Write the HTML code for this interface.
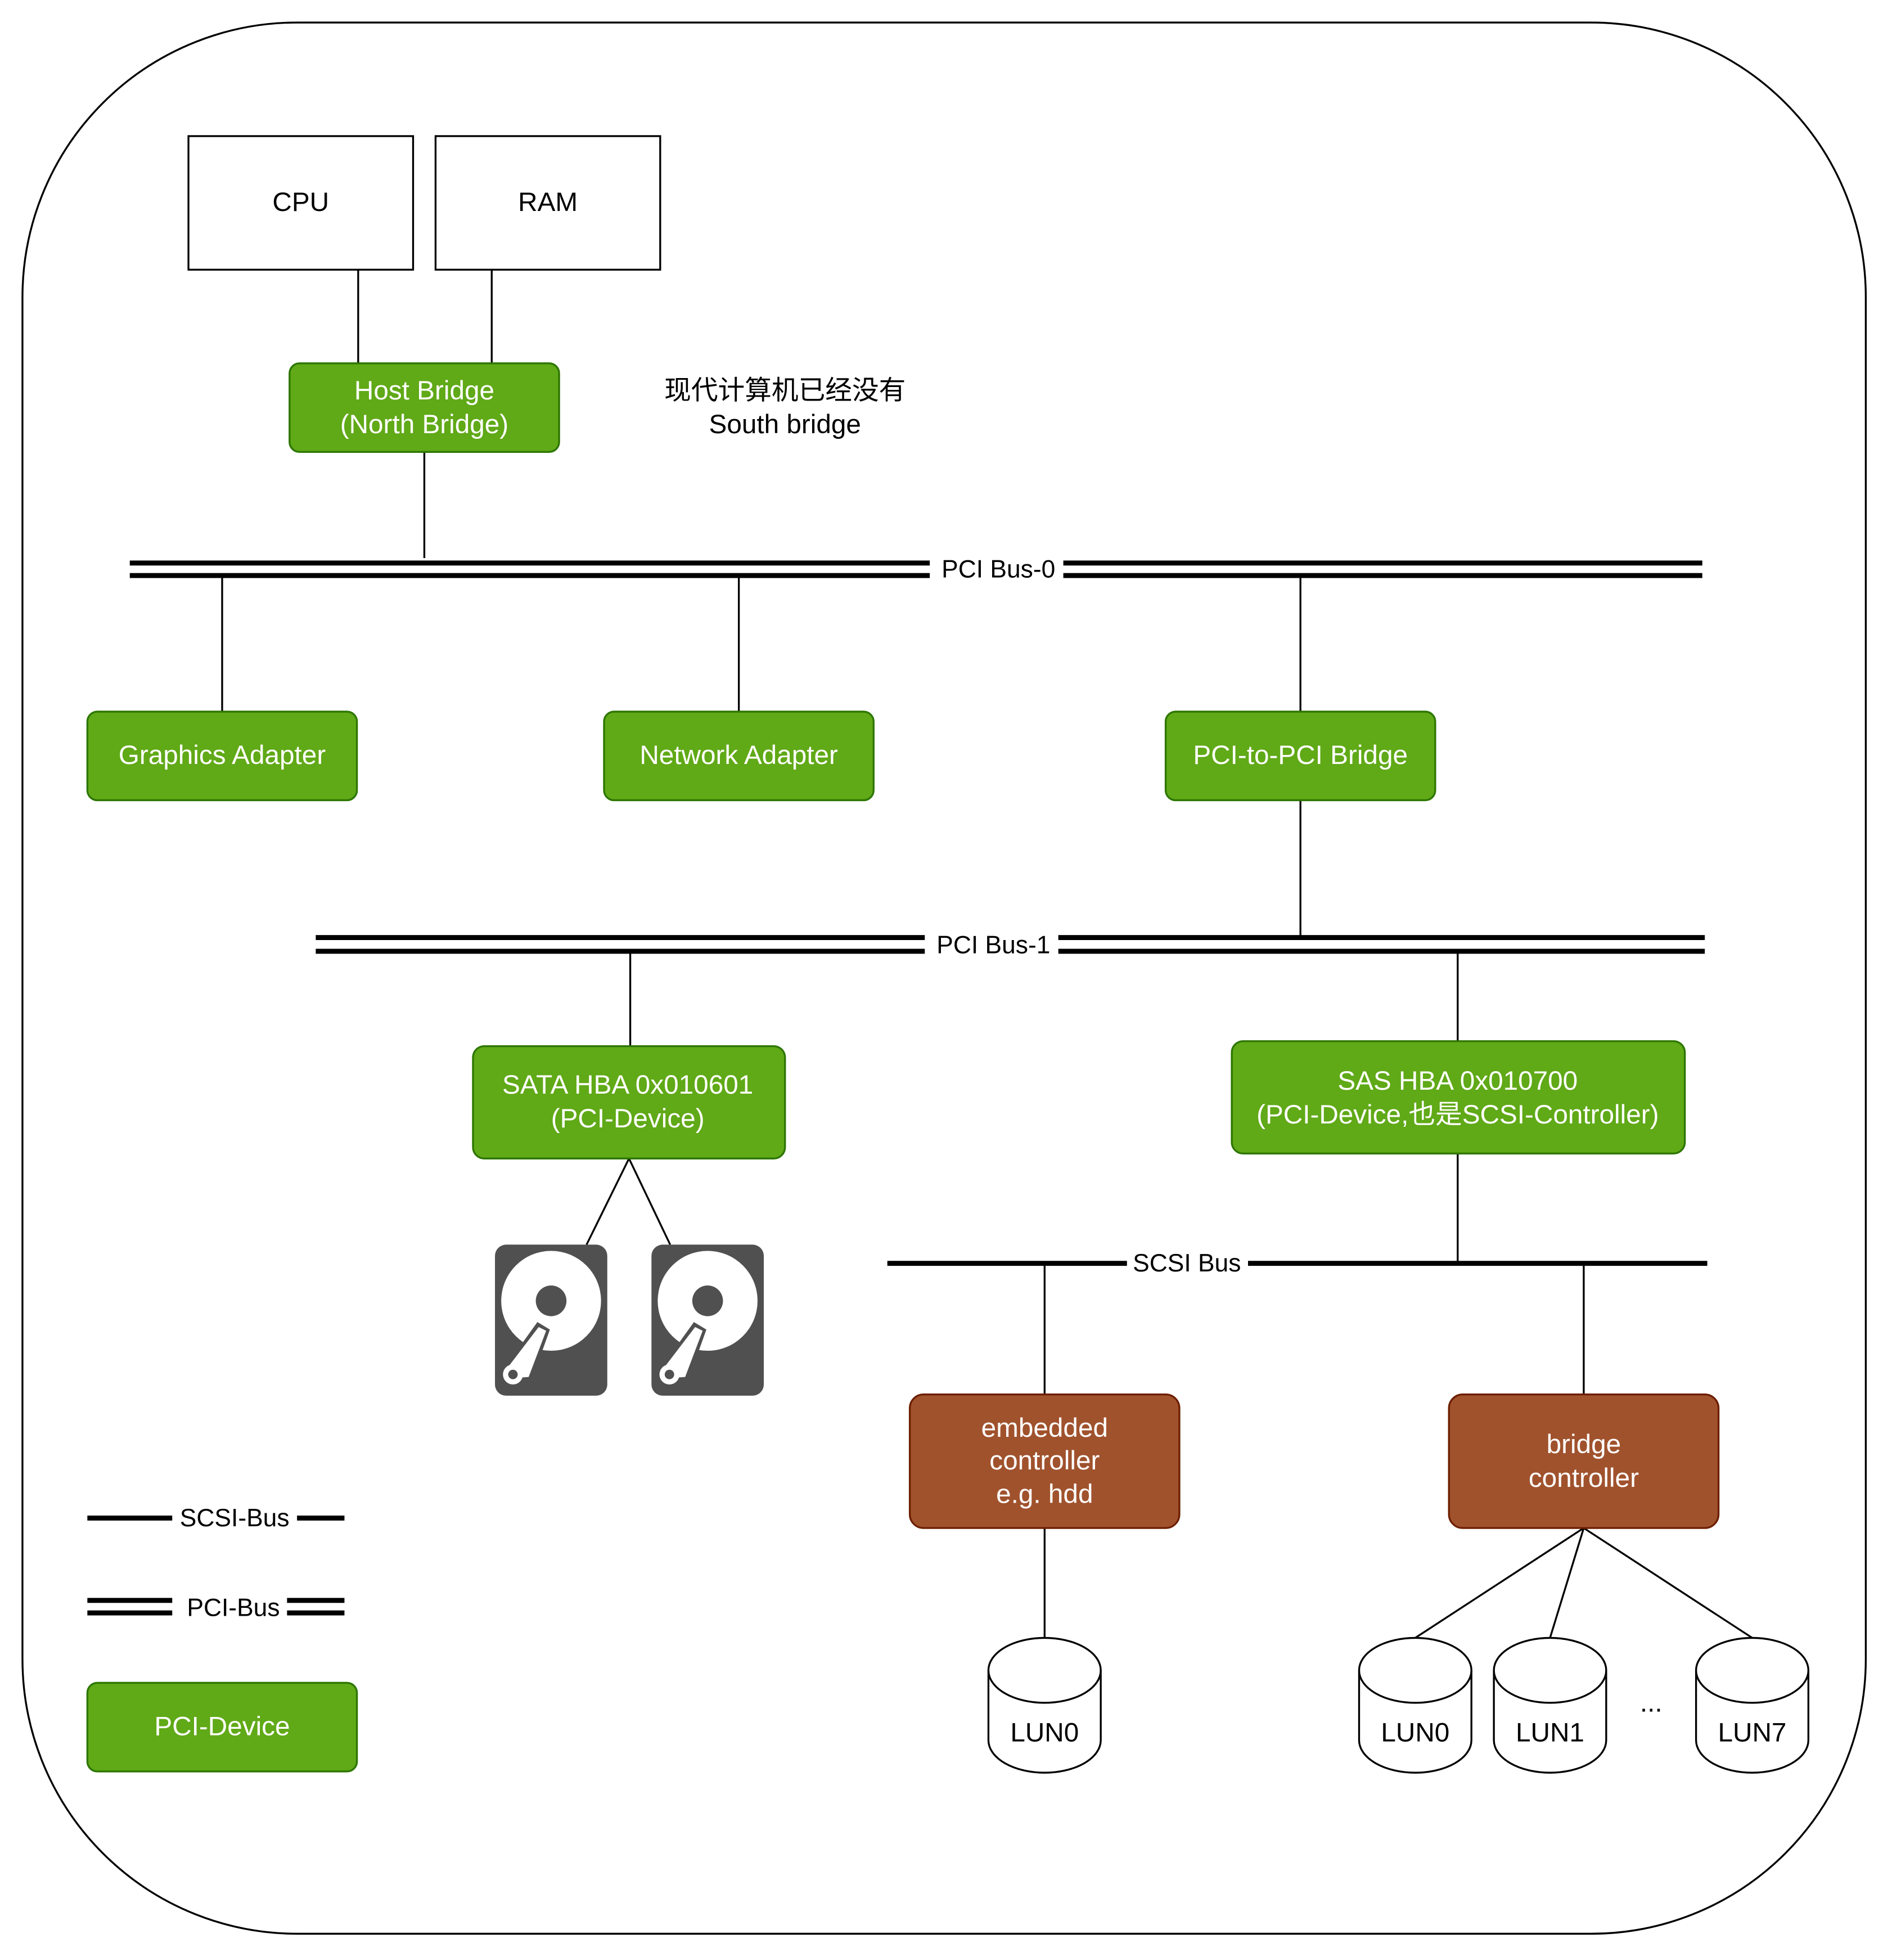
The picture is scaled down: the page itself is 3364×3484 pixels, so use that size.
<!DOCTYPE html>
<html><head><meta charset="utf-8"><style>
html,body{margin:0;padding:0;background:#fff;}
svg{display:block;}
text{font-family:"Liberation Sans","Noto Sans CJK SC",sans-serif;font-size:21.5px;text-anchor:middle;dominant-baseline:central;}
.w{fill:#fff;}
.s{font-size:20px;}
</style></head><body>
<svg width="3364" height="3484" viewBox="0 0 1516 1570" xmlns="http://www.w3.org/2000/svg">
<defs>
<g id="hdd">
<rect x="0" y="0" width="90" height="121" rx="9" fill="#505050"/>
<circle cx="45" cy="45" r="40" fill="#fff"/>
<circle cx="45" cy="45" r="12.3" fill="#505050"/>
<polygon points="34,62 44,68 29,110 8,112 6,101" fill="#505050"/>
<polygon points="35,66 41,69 27,106 13,107 9,100" fill="#fff"/>
<circle cx="14.4" cy="104" r="8" fill="#fff"/>
<circle cx="14.4" cy="104" r="3.8" fill="#505050"/>
</g>
<g id="cyl">
<path d="M0,26 L0,82 A45,26 0 0 0 90,82 L90,26" fill="#fff" stroke="#000" stroke-width="1.5"/>
<ellipse cx="45" cy="26" rx="45" ry="26" fill="#fff" stroke="#000" stroke-width="1.5"/>
</g>
</defs>
<rect x="18" y="18" width="1477" height="1531" rx="220" fill="#fff" stroke="#000" stroke-width="1.5"/>
<g stroke="#000" stroke-width="1.5" fill="none">
<rect x="151" y="109" width="180" height="107" fill="#fff"/>
<rect x="349" y="109" width="180" height="107" fill="#fff"/>
<line x1="287" y1="216" x2="287" y2="291"/>
<line x1="394" y1="216" x2="394" y2="291"/>
<line x1="340" y1="362" x2="340" y2="447"/>
<line x1="178" y1="461" x2="178" y2="570"/>
<line x1="592" y1="461" x2="592" y2="570"/>
<line x1="1042" y1="461" x2="1042" y2="570"/>
<line x1="1042" y1="641" x2="1042" y2="750"/>
<line x1="505" y1="762" x2="505" y2="838"/>
<line x1="1168" y1="762" x2="1168" y2="834"/>
<line x1="1168" y1="924" x2="1168" y2="1012"/>
<line x1="504" y1="928" x2="470" y2="997"/>
<line x1="504" y1="928" x2="537" y2="997"/>
<line x1="837" y1="1012" x2="837" y2="1117"/>
<line x1="1269" y1="1012" x2="1269" y2="1117"/>
<line x1="837" y1="1224" x2="837" y2="1312"/>
<line x1="1269" y1="1224" x2="1134" y2="1312"/>
<line x1="1269" y1="1224" x2="1242" y2="1312"/>
<line x1="1269" y1="1224" x2="1404" y2="1312"/>
</g>
<g stroke="#000" stroke-width="4">
<line x1="104" y1="451" x2="745" y2="451"/><line x1="104" y1="461" x2="745" y2="461"/>
<line x1="852" y1="451" x2="1364" y2="451"/><line x1="852" y1="461" x2="1364" y2="461"/>
<line x1="253" y1="751" x2="741" y2="751"/><line x1="253" y1="762" x2="741" y2="762"/>
<line x1="848" y1="751" x2="1366" y2="751"/><line x1="848" y1="762" x2="1366" y2="762"/>
<line x1="711" y1="1012" x2="903" y2="1012"/><line x1="1000" y1="1012" x2="1368" y2="1012"/>
<line x1="70" y1="1216" x2="138" y2="1216"/><line x1="238" y1="1216" x2="276" y2="1216"/>
<line x1="70" y1="1282" x2="138" y2="1282"/><line x1="70" y1="1292" x2="138" y2="1292"/>
<line x1="230" y1="1282" x2="276" y2="1282"/><line x1="230" y1="1292" x2="276" y2="1292"/>
</g>
<g fill="#60a917" stroke="#2d7600" stroke-width="1.5">
<rect x="232" y="291" width="216" height="71" rx="8"/>
<rect x="70" y="570" width="216" height="71" rx="8"/>
<rect x="484" y="570" width="216" height="71" rx="8"/>
<rect x="934" y="570" width="216" height="71" rx="8"/>
<rect x="379" y="838" width="250" height="90" rx="9"/>
<rect x="987" y="834" width="363" height="90" rx="9"/>
<rect x="70" y="1348" width="216" height="71" rx="8"/>
</g>
<g fill="#a0522d" stroke="#6d1f00" stroke-width="1.5">
<rect x="729" y="1117" width="216" height="107" rx="11"/>
<rect x="1161" y="1117" width="216" height="107" rx="11"/>
</g>
<use href="#hdd" x="396.6" y="997"/>
<use href="#hdd" x="522" y="997"/>
<use href="#cyl" x="792" y="1312"/>
<use href="#cyl" x="1089" y="1312"/>
<use href="#cyl" x="1197" y="1312"/>
<use href="#cyl" x="1359" y="1312"/>
<text x="241" y="162">CPU</text>
<text x="439" y="162">RAM</text>
<text class="w" x="340" y="313">Host Bridge</text>
<text class="w" x="340" y="340">(North Bridge)</text>
<text x="629" y="313">现代计算机已经没有</text>
<text x="629" y="340">South bridge</text>
<text class="s" x="800" y="456">PCI Bus-0</text>
<text class="w" x="178" y="605">Graphics Adapter</text>
<text class="w" x="592" y="605">Network Adapter</text>
<text class="w" x="1042" y="605">PCI-to-PCI Bridge</text>
<text class="s" x="796" y="757">PCI Bus-1</text>
<text class="w" x="503" y="869">SATA HBA 0x010601</text>
<text class="w" x="503" y="896">(PCI-Device)</text>
<text class="w" x="1168" y="866">SAS HBA 0x010700</text>
<text class="w" x="1168" y="893">(PCI-Device,也是SCSI-Controller)</text>
<text class="s" x="951" y="1012">SCSI Bus</text>
<text class="w" x="837" y="1144">embedded</text>
<text class="w" x="837" y="1170">controller</text>
<text class="w" x="837" y="1197">e.g. hdd</text>
<text class="w" x="1269" y="1157">bridge</text>
<text class="w" x="1269" y="1184">controller</text>
<text x="837" y="1388">LUN0</text>
<text x="1134" y="1388">LUN0</text>
<text x="1242" y="1388">LUN1</text>
<text x="1404" y="1388">LUN7</text>
<text x="1323" y="1364">...</text>
<text class="s" x="188" y="1216">SCSI-Bus</text>
<text class="s" x="187" y="1288">PCI-Bus</text>
<text class="w" x="178" y="1383">PCI-Device</text>
</svg>
</body></html>
